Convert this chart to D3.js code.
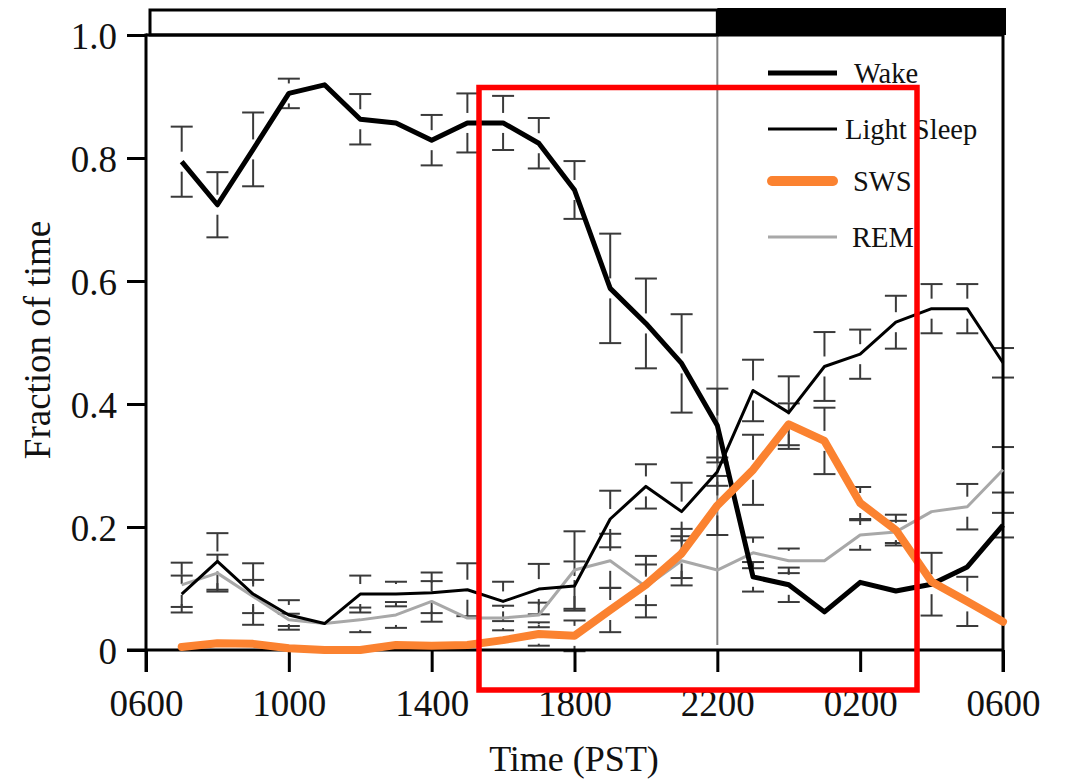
<!DOCTYPE html>
<html>
<head>
<meta charset="utf-8">
<script src="https://cdn.jsdelivr.net/npm/d3@7"></script>
<style>
  html, body { margin: 0; padding: 0; background: #fff; }
  svg text { font-family: "Liberation Serif", "Times New Roman", serif; fill: #111; }
</style>
</head>
<body>
<div id="chart"></div>
<script>
// hours after 0600, one point per hour (0700 ... 0600)
const hours = d3.range(1, 25);
const tickHours = [0, 4, 8, 12, 16, 20, 24];
const tickLabels = ["0600", "1000", "1400", "1800", "2200", "0200", "0600"];
const yTicks = [0, 0.2, 0.4, 0.6, 0.8, 1.0];

const wake = [0.794, 0.724, 0.814, 0.905, 0.919, 0.863, 0.857, 0.829, 0.857, 0.857, 0.824, 0.748,
  0.588, 0.531, 0.466, 0.365, 0.119, 0.106, 0.062, 0.110, 0.096, 0.107, 0.135, 0.203];
const wakeErr = [0.057, 0.053, 0.06, 0.024, 0, 0.041, 0, 0.041, 0.048, 0.044, 0.041, 0.047,
  0.089, 0.073, 0.08, 0.06, 0.024, 0.028, 0, 0, 0, 0.051, 0, 0.02];

const light = [0.091, 0.144, 0.091, 0.057, 0.043, 0.091, 0.091, 0.093, 0.098, 0.079, 0.099, 0.104,
  0.213, 0.266, 0.225, 0.290, 0.422, 0.386, 0.461, 0.481, 0.533, 0.555, 0.555, 0.467];
const lightErr = [0.03, 0.046, 0.05, 0.024, 0, 0.03, 0.02, 0.033, 0.043, 0.032, 0.041, 0.04,
  0.046, 0.036, 0.047, 0.023, 0.05, 0.059, 0.056, 0.04, 0.043, 0.04, 0.04, 0.024];

const sws = [0.005, 0.011, 0.010, 0.003, 0.0, 0.0, 0.008, 0.007, 0.008, 0.016, 0.026, 0.023,
  0.065, 0.106, 0.157, 0.235, 0.293, 0.367, 0.340, 0.239, 0.195, 0.111, 0.079, 0.046];
const swsErr = [0, 0, 0, 0, 0, 0, 0, 0, 0, 0, 0.019, 0.025,
  0.036, 0.033, 0.04, 0.048, 0.057, 0.034, 0.054, 0.026, 0.025, 0, 0.04, 0];

const rem = [0.106, 0.125, 0.087, 0.049, 0.043, 0.049, 0.057, 0.079, 0.052, 0.052, 0.057, 0.130,
  0.145, 0.103, 0.145, 0.130, 0.158, 0.145, 0.145, 0.187, 0.192, 0.225, 0.233, 0.293];
const remErr = [0.036, 0.03, 0.027, 0.01, 0, 0.02, 0.021, 0.033, 0, 0.02, 0.02, 0.063,
  0.044, 0.05, 0.04, 0, 0.025, 0.02, 0, 0.024, 0.018, 0, 0.037, 0.037];

const legendNames = ["Wake", "Light Sleep", "SWS", "REM"];

// line styles
const styles = {
  "Wake": { color: "#000", width: 5, cap: "butt" },
  "Light Sleep": { color: "#000", width: 3, cap: "butt" },
  "SWS": { color: "#fb8230", width: 8, cap: "round" },
  "REM": { color: "#a8a8a8", width: 3, cap: "butt" }
};

const series = [
  { name: "REM", values: rem, err: remErr },
  { name: "Light Sleep", values: light, err: lightErr },
  { name: "Wake", values: wake, err: wakeErr },
  { name: "SWS", values: sws, err: swsErr }
];

const W = 1071, H = 782;
const svg = d3.select("#chart").append("svg")
  .attr("width", W).attr("height", H);

const x = d3.scaleLinear().domain([0, 24]).range([146, 1003]);
const y = d3.scaleLinear().domain([0, 1]).range([650, 35]);

// light / dark bar on top
svg.append("rect")
  .attr("x", 150).attr("y", 10)
  .attr("width", x(16) - 150).attr("height", 25)
  .attr("fill", "#fff").attr("stroke", "#000").attr("stroke-width", 3);
svg.append("rect")
  .attr("x", x(16)).attr("y", 8)
  .attr("width", 1006 - x(16)).attr("height", 27)
  .attr("fill", "#000");

// lights-off marker
svg.append("line")
  .attr("x1", x(16)).attr("x2", x(16))
  .attr("y1", y(1)).attr("y2", 645)
  .attr("stroke", "#808080").attr("stroke-width", 2);

// error bars (stems stop short of the mean)
const gap = 10, capW = 11;
const eb = svg.append("g").attr("stroke", "#3a3a3a").attr("stroke-width", 2).attr("fill", "none");
series.forEach(s => {
  s.values.forEach((v, i) => {
    const e = s.err[i];
    if (!e) return;
    const cx = x(hours[i]);
    const yc = y(v), yt = y(v + e), yb = y(v - e);
    eb.append("line").attr("x1", cx - capW).attr("x2", cx + capW).attr("y1", yt).attr("y2", yt);
    eb.append("line").attr("x1", cx - capW).attr("x2", cx + capW).attr("y1", yb).attr("y2", yb);
    eb.append("line").attr("x1", cx).attr("x2", cx)
      .attr("y1", yt).attr("y2", Math.max(yt + 2, yc - gap));
    eb.append("line").attr("x1", cx).attr("x2", cx)
      .attr("y1", yb).attr("y2", Math.min(yb - 2, yc + gap));
  });
});

// axes frame
const ax = svg.append("g").attr("stroke", "#000").attr("stroke-width", 3).attr("fill", "none");
ax.append("line").attr("x1", x(0)).attr("x2", x(0)).attr("y1", y(1) - 1.5).attr("y2", 672);
ax.append("line").attr("x1", x(24)).attr("x2", x(24)).attr("y1", y(1) - 1.5).attr("y2", 672);
ax.append("line").attr("x1", x(0)).attr("x2", x(24)).attr("y1", y(1)).attr("y2", y(1));
ax.append("line").attr("x1", 127).attr("x2", x(24)).attr("y1", y(0)).attr("y2", y(0));

// x axis
const xAxis = svg.append("g")
  .attr("transform", `translate(0,${y(0)})`)
  .call(d3.axisBottom(x).tickValues(tickHours).tickSize(22).tickPadding(18)
    .tickFormat((d, i) => tickLabels[i]));
xAxis.select(".domain").remove();
xAxis.selectAll(".tick line").attr("stroke", "#000").attr("stroke-width", 3);
xAxis.selectAll(".tick text")
  .attr("font-family", "Liberation Serif, Times New Roman, serif")
  .attr("font-size", 37).attr("fill", "#111");

// y axis
const yAxis = svg.append("g")
  .attr("transform", `translate(${x(0)},0)`)
  .call(d3.axisLeft(y).tickValues(yTicks).tickSize(19).tickPadding(10)
    .tickFormat(d => d === 0 ? "0" : d3.format(".1f")(d)));
yAxis.select(".domain").remove();
yAxis.selectAll(".tick line").attr("stroke", "#000").attr("stroke-width", 3);
yAxis.selectAll(".tick text")
  .attr("font-family", "Liberation Serif, Times New Roman, serif")
  .attr("font-size", 37).attr("fill", "#111").attr("dy", "0.36em");

// axis titles
svg.append("text")
  .attr("x", 574).attr("y", 771)
  .attr("text-anchor", "middle")
  .attr("font-size", 36)
  .text("Time (PST)");
svg.append("text")
  .attr("transform", "translate(50,340) rotate(-90)")
  .attr("text-anchor", "middle")
  .attr("font-size", 37)
  .text("Fraction of time");

// series lines
const line = d3.line().x((d, i) => x(hours[i])).y(d => y(d));
series.forEach(s => {
  const st = styles[s.name];
  svg.append("path")
    .datum(s.values)
    .attr("d", line)
    .attr("fill", "none")
    .attr("stroke", st.color)
    .attr("stroke-width", st.width)
    .attr("stroke-linejoin", "round")
    .attr("stroke-linecap", st.cap);
});

// legend
const legendY = [73, 129, 181, 237];
const legendTextX = [854, 845, 853, 852];
const lg = svg.append("g");
legendNames.forEach((n, i) => {
  const st = styles[n];
  const inset = st.cap === "round" ? st.width / 2 : 0;
  lg.append("line")
    .attr("x1", 768 + inset).attr("x2", 837 - inset)
    .attr("y1", legendY[i]).attr("y2", legendY[i])
    .attr("stroke", st.color)
    .attr("stroke-width", n === "SWS" ? 10 : st.width)
    .attr("stroke-linecap", st.cap);
  lg.append("text")
    .attr("x", legendTextX[i]).attr("y", legendY[i] + 10)
    .attr("font-size", 28.5)
    .text(n);
});

// red highlight box drawn over the figure
svg.append("rect")
  .attr("x", 479).attr("y", 87.5)
  .attr("width", 917 - 479).attr("height", 690 - 87.5)
  .attr("fill", "none").attr("stroke", "#ff0000").attr("stroke-width", 5.5);
</script>
</body>
</html>
